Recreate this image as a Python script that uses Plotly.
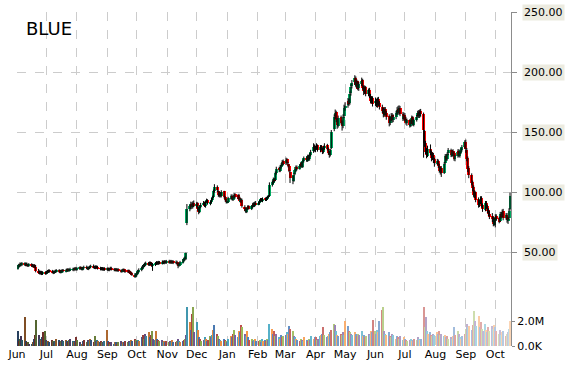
import pandas as pd
import plotly.graph_objects as go

# ---------------- data ----------------
first_day = "2014-06-02"
last_day = "2015-10-16"

opens = [
    # Jun 2014
    37.2, 38.8, 39.4, 40.6, 40.1, 41.0, 40.0, 40.9, 39.6, 39.4, 40.3, 39.5, 38.9, 39.5, 38.6, 35.2, 34.2, 33.0, 33.9, 32.7, 33.5,
    # Jul 2014
    33.1, 33.9, 34.4, 35.1, 34.7, 34.1, 33.6, 34.3, 34.7, 35.3, 34.7, 34.0, 34.9, 35.4, 34.8, 35.6, 36.1, 35.3, 35.9, 36.5, 35.8, 36.4, 37.1,
    # Aug 2014
    36.3, 36.9, 37.6, 37.1, 36.5, 37.4, 38.1, 37.5, 36.7, 37.6, 38.3, 38.9, 38.2, 37.5, 38.4, 38.1, 37.3, 36.5, 37.1, 36.2, 36.9,
    # Sep 2014
    36.1, 36.7, 35.8, 36.6, 37.3, 36.3, 35.7, 36.4, 35.5, 36.1, 35.1, 34.6, 35.4, 35.8, 34.9, 34.3, 35.0, 34.1, 33.6, 32.5, 31.9, 30.5,
    # Oct 2014
    31.6, 33.1, 34.5, 35.9, 37.3, 38.7, 39.4, 40.5, 41.3, 40.3, 41.6, 40.9, 39.5, 40.2, 41.1, 41.9, 41.1, 42.1, 41.4, 42.5, 41.6, 42.7, 41.9,
    # Nov 2014
    42.9, 42.1, 42.9, 41.9, 42.7, 41.7, 42.2, 40.7, 39.5, 40.6, 42.1, 43.4, 44.9, 44.6, 75.0, 86.5, 88.2, 90.5, 87.8, 91.0,
    # Dec 2014
    89.0, 91.0, 86.5, 83.5, 88.0, 90.5, 91.8, 88.5, 92.5, 93.8, 90.5, 92.0, 94.5, 96.5, 101.5, 105.0, 101.5, 97.5, 100.0, 97.0, 101.0, 96.5, 94.0,
    # Jan 2015
    92.0, 92.5, 95.0, 97.5, 94.0, 96.0, 98.5, 95.5, 97.8, 95.5, 92.5, 94.0, 88.0, 86.5, 84.0, 86.5, 88.5, 86.5, 88.0, 90.5, 88.5, 91.5,
    # Feb 2015
    90.5, 91.0, 93.0, 94.8, 93.0, 95.5, 93.8, 95.0, 96.5, 97.5, 106.5, 108.0, 111.5, 110.5, 116.5, 120.5, 118.0, 121.0, 123.0, 126.0,
    # Mar 2015
    124.5, 127.5, 124.0, 122.5, 117.5, 112.5, 110.0, 115.5, 118.0, 121.5, 119.5, 122.0, 124.5, 121.5, 126.5, 129.0, 126.5, 130.5, 127.5, 131.0, 134.5, 138.5,
    # Apr 2015
    135.5, 137.5, 139.5, 135.0, 138.5, 136.5, 133.5, 137.0, 139.5, 136.5, 133.5, 131.0, 137.0, 153.0, 163.5, 167.0, 160.5, 155.5, 162.5, 158.5, 155.0, 164.0,
    # May 2015
    170.5, 172.5, 176.5, 174.5, 182.5, 188.5, 191.5, 195.5, 188.5, 192.5, 186.5, 190.5, 193.5, 187.5, 183.5, 187.5, 181.5, 185.5, 180.5, 175.5, 178.5,
    # Jun 2015
    174.5, 176.5, 172.5, 177.5, 174.5, 171.5, 168.5, 164.5, 169.5, 166.5, 163.5, 157.5, 161.5, 164.5, 160.0, 162.5, 166.5, 169.5, 166.5, 170.5, 165.5, 161.5,
    # Jul 2015
    164.5, 161.5, 157.5, 160.5, 155.5, 158.5, 162.5, 156.5, 160.5, 163.5, 166.5, 163.5, 167.5, 165.0, 151.0, 141.5, 134.5, 130.5, 136.5, 133.5, 128.5, 131.5, 127.5,
    # Aug 2015
    124.5, 126.5, 122.5, 117.5, 120.5, 116.5, 124.5, 130.5, 127.5, 132.5, 135.5, 130.5, 134.5, 132.5, 127.5, 130.5, 134.5, 130.5, 133.5, 135.5, 137.5,
    # Sep 2015
    142.0, 135.5, 128.5, 120.5, 114.5, 108.5, 104.5, 97.5, 100.5, 94.5, 89.5, 92.5, 95.5, 89.5, 85.5, 91.5, 88.5, 85.5, 82.5, 80.5, 78.5, 73.5,
    # Oct 2015
    77.5, 80.5, 78.5, 76.5, 82.5, 80.5, 84.5, 78.5, 81.5, 76.5, 78.5, 86.0,
]

highs = [
    40.0, 40.9, 42.0, 41.8, 42.3, 42.1, 42.0, 41.9, 41.0, 41.4, 41.3, 40.7, 40.6, 40.6, 39.8, 36.6, 35.4, 35.1, 35.0, 34.7, 34.7,
    35.0, 35.7, 36.2, 36.2, 35.8, 35.3, 35.4, 36.0, 36.4, 36.4, 35.8, 36.0, 36.5, 36.5, 36.7, 37.2, 37.2, 37.0, 37.6, 37.6, 37.7, 38.2, 38.3,
    38.0, 38.7, 38.8, 38.2, 38.4, 39.3, 39.4, 38.6, 38.7, 39.4, 40.1, 40.3, 39.3, 39.6, 39.5, 39.2, 38.4, 38.2, 38.2, 38.0, 38.0,
    37.8, 37.8, 37.6, 38.4, 38.4, 37.4, 37.4, 37.4, 37.1, 37.2, 36.2, 36.4, 37.0, 36.9, 36.0, 36.0, 36.1, 35.2, 34.6, 33.7, 33.0, 32.7,
    34.3, 35.9, 37.1, 38.7, 39.9, 40.8, 41.9, 42.7, 42.4, 42.8, 42.7, 42.1, 41.6, 42.2, 43.1, 43.0, 43.3, 43.2, 43.7, 43.6, 43.9, 43.8, 44.1,
    44.2, 44.1, 44.1, 43.9, 43.8, 43.6, 43.4, 41.9, 41.8, 43.3, 44.8, 46.1, 46.9, 50.2, 90.5, 90.0, 92.5, 92.0, 92.8, 93.5,
    92.5, 92.0, 88.0, 89.5, 91.5, 93.0, 92.5, 93.0, 95.0, 94.5, 93.5, 95.5, 97.5, 102.5, 107.0, 106.0, 102.0, 101.0, 100.5, 102.0, 101.5, 97.0, 95.0,
    93.0, 96.5, 98.5, 98.5, 97.5, 99.5, 99.5, 98.5, 99.0, 96.5, 95.5, 95.0, 89.5, 87.5, 87.5, 89.5, 89.5, 89.5, 91.5, 92.0, 92.5, 93.0,
    92.5, 94.0, 95.5, 95.5, 96.0, 96.0, 96.5, 97.5, 98.0, 108.5, 110.0, 112.5, 112.0, 117.5, 121.5, 121.5, 123.0, 124.5, 127.0, 127.5,
    129.0, 128.5, 125.5, 123.5, 118.5, 114.0, 116.5, 119.5, 122.5, 122.5, 123.5, 125.5, 125.5, 127.5, 130.0, 130.0, 131.5, 131.5, 133.0, 135.5, 141.0, 140.0,
    139.0, 141.0, 140.0, 139.5, 139.5, 137.5, 139.0, 141.0, 140.5, 137.5, 134.5, 136.5, 152.0, 165.0, 169.0, 168.0, 162.0, 164.0, 164.0, 160.0, 165.0, 173.0,
    175.0, 178.5, 178.0, 184.0, 190.0, 193.5, 197.5, 196.5, 194.0, 193.0, 192.0, 195.5, 194.5, 189.0, 189.0, 188.5, 186.5, 187.0, 182.0, 180.0, 180.0,
    179.0, 178.0, 179.0, 179.5, 176.0, 173.0, 170.5, 171.0, 171.0, 168.0, 165.0, 163.0, 166.0, 166.0, 165.0, 168.0, 171.0, 172.0, 172.5, 172.0, 167.0, 166.5,
    166.0, 163.0, 161.5, 161.0, 160.5, 164.0, 163.5, 161.5, 164.5, 168.0, 168.5, 169.0, 169.5, 166.5, 152.0, 143.0, 137.0, 139.0, 140.0, 135.0, 133.5, 133.0, 129.0,
    128.0, 127.5, 124.0, 121.5, 122.0, 125.5, 132.0, 132.0, 133.5, 137.0, 136.5, 135.5, 136.0, 134.0, 131.5, 136.0, 136.0, 134.5, 137.0, 139.5, 143.5,
    144.0, 137.0, 130.0, 122.0, 116.0, 110.0, 106.0, 102.0, 101.0, 96.0, 94.0, 97.0, 97.0, 91.0, 93.0, 93.0, 90.0, 87.0, 85.0, 83.0, 80.0, 79.0,
    82.0, 82.0, 80.0, 84.0, 84.0, 86.0, 86.5, 83.0, 83.0, 80.0, 87.0, 100.0,
]

lows = [
    36.0, 37.5, 38.2, 38.8, 39.0, 39.1, 38.8, 38.7, 38.2, 38.3, 38.4, 37.9, 37.8, 37.2, 33.8, 32.8, 32.0, 31.9, 31.5, 31.6, 31.8,
    32.0, 32.8, 33.3, 33.5, 32.9, 32.3, 32.5, 33.2, 33.6, 33.5, 32.9, 33.0, 33.8, 33.8, 33.7, 34.5, 34.3, 34.2, 34.8, 34.8, 34.7, 35.2, 35.3,
    35.1, 35.8, 35.9, 35.4, 35.4, 36.3, 36.3, 35.7, 35.6, 36.5, 37.2, 37.0, 36.5, 36.4, 36.9, 36.1, 35.4, 35.4, 35.2, 35.1, 35.0,
    35.0, 34.8, 34.7, 35.5, 35.3, 34.7, 34.6, 34.5, 34.4, 34.1, 33.5, 33.6, 34.3, 33.9, 33.3, 33.2, 33.1, 32.4, 31.5, 30.8, 29.3, 29.4,
    30.4, 31.9, 33.4, 34.7, 36.1, 37.5, 38.2, 39.3, 39.2, 39.1, 39.7, 38.4, 35.0, 39.0, 39.9, 40.0, 40.0, 40.4, 40.3, 40.6, 40.5, 40.9, 40.8,
    41.0, 40.9, 40.8, 40.8, 40.6, 40.6, 39.6, 37.2, 38.4, 39.4, 41.0, 42.2, 43.5, 44.0, 73.0, 84.5, 86.0, 86.5, 86.8, 88.0,
    87.5, 85.0, 82.0, 83.0, 87.0, 89.5, 88.0, 87.5, 91.5, 90.0, 89.5, 91.0, 93.5, 95.5, 100.0, 100.5, 96.5, 96.0, 96.0, 96.0, 95.0, 92.5, 91.0,
    91.0, 91.5, 94.0, 93.5, 93.0, 95.0, 95.0, 94.5, 94.0, 92.0, 91.5, 87.5, 84.5, 83.0, 83.0, 85.5, 86.0, 85.5, 87.0, 88.0, 88.0, 89.5,
    89.5, 90.0, 92.0, 92.5, 92.0, 93.0, 93.0, 94.0, 95.5, 96.5, 105.0, 107.0, 108.5, 109.5, 115.0, 117.0, 117.0, 120.0, 122.0, 122.5,
    123.0, 123.5, 121.0, 117.0, 108.0, 107.0, 109.0, 114.5, 117.0, 118.5, 119.0, 121.0, 120.5, 120.5, 125.0, 125.5, 125.5, 126.5, 126.5, 130.0, 133.0, 134.0,
    133.5, 135.5, 134.0, 133.5, 135.0, 132.0, 132.5, 135.5, 135.0, 131.5, 129.0, 130.0, 136.0, 151.0, 161.0, 158.5, 153.0, 154.0, 156.5, 151.5, 153.5, 162.0,
    168.0, 170.5, 172.0, 173.0, 180.5, 186.5, 189.5, 187.5, 186.5, 185.0, 184.5, 188.5, 185.5, 181.0, 182.0, 180.0, 180.0, 178.5, 174.0, 174.0, 171.5,
    172.0, 171.0, 170.5, 172.0, 169.0, 166.0, 162.5, 163.0, 164.0, 160.5, 155.0, 156.0, 159.5, 158.0, 158.5, 161.0, 164.5, 165.0, 164.5, 163.5, 159.5, 160.0,
    159.0, 156.5, 155.5, 154.0, 154.5, 157.0, 155.5, 155.0, 159.0, 162.5, 162.0, 162.0, 163.0, 129.0, 138.0, 132.0, 128.5, 129.5, 131.0, 126.0, 127.0, 124.5, 121.5,
    123.0, 120.5, 116.5, 115.0, 113.0, 115.5, 123.5, 126.5, 126.5, 131.0, 129.5, 129.5, 130.5, 126.5, 126.0, 129.0, 129.5, 129.0, 132.0, 134.0, 136.5,
    133.0, 126.0, 117.0, 112.0, 106.0, 101.0, 96.0, 95.5, 92.0, 87.5, 88.0, 90.5, 87.5, 84.0, 84.5, 86.5, 83.0, 80.5, 78.0, 75.5, 72.0, 72.5,
    71.0, 76.5, 74.5, 75.5, 78.5, 79.5, 77.0, 77.5, 75.0, 74.0, 77.5, 85.0,
]

closes = [
    38.5, 39.5, 40.5, 40.0, 41.0, 40.2, 40.8, 39.8, 39.5, 40.2, 39.6, 39.0, 39.4, 38.2, 35.0, 34.0, 33.2, 33.8, 32.6, 33.4, 33.0,
    33.8, 34.5, 35.0, 34.6, 34.0, 33.5, 34.2, 34.8, 35.2, 34.6, 34.0, 34.8, 35.3, 34.9, 35.5, 36.0, 35.4, 35.8, 36.4, 35.9, 36.5, 37.0, 36.4,
    36.8, 37.5, 37.0, 36.6, 37.3, 38.0, 37.4, 36.8, 37.5, 38.2, 38.8, 38.1, 37.6, 38.3, 38.0, 37.2, 36.6, 37.0, 36.3, 36.8, 36.2,
    36.6, 35.9, 36.5, 37.2, 36.4, 35.8, 36.3, 35.6, 36.0, 35.2, 34.7, 35.3, 35.9, 35.0, 34.4, 34.9, 34.2, 33.5, 32.6, 32.0, 30.6, 31.5,
    33.0, 34.6, 35.8, 37.4, 38.6, 39.5, 40.6, 41.2, 40.4, 41.5, 40.8, 39.6, 40.3, 41.0, 41.8, 41.2, 42.0, 41.5, 42.4, 41.7, 42.6, 42.0, 42.8,
    42.2, 42.8, 42.0, 42.6, 41.8, 42.3, 40.8, 39.6, 40.5, 42.0, 43.5, 44.8, 45.5, 49.5, 86.0, 88.5, 90.2, 88.0, 90.8, 89.5,
    90.5, 86.0, 84.0, 88.5, 90.0, 91.5, 89.0, 92.0, 93.5, 91.0, 92.5, 94.0, 96.0, 101.0, 104.5, 102.0, 98.0, 99.5, 97.5, 100.5, 96.0, 93.5, 92.0,
    92.0, 95.5, 97.0, 94.5, 96.5, 98.0, 96.0, 97.5, 95.0, 93.0, 94.5, 88.5, 86.0, 84.5, 86.0, 88.0, 87.0, 88.5, 90.0, 89.0, 91.0, 90.5,
    91.5, 93.0, 94.5, 93.5, 95.0, 94.0, 95.5, 96.5, 97.0, 106.0, 108.5, 111.0, 110.0, 116.0, 120.0, 118.5, 121.5, 123.0, 125.5, 124.0,
    127.0, 124.5, 122.0, 118.0, 112.0, 110.5, 115.0, 118.5, 121.0, 120.0, 122.5, 124.0, 122.0, 126.0, 128.5, 127.0, 130.0, 128.0, 131.5, 134.0, 138.0, 136.0,
    137.0, 139.0, 135.5, 138.0, 136.5, 134.0, 137.5, 139.0, 136.0, 133.0, 131.0, 135.0, 150.0, 163.0, 166.0, 160.0, 156.0, 162.0, 158.0, 155.0, 163.0, 170.0,
    172.0, 176.0, 174.0, 182.0, 188.0, 191.0, 195.0, 189.0, 192.0, 186.0, 190.0, 193.0, 187.0, 184.0, 187.0, 182.0, 185.0, 180.0, 176.0, 178.0, 174.0,
    176.0, 173.0, 177.0, 174.0, 171.0, 168.0, 165.0, 169.0, 166.0, 163.0, 158.0, 161.0, 164.0, 160.0, 163.0, 166.0, 169.0, 167.0, 170.0, 165.0, 162.0, 164.0,
    161.0, 158.0, 160.0, 156.0, 159.0, 162.0, 157.0, 160.0, 163.0, 166.0, 164.0, 167.0, 165.0, 152.0, 141.0, 134.0, 131.0, 136.0, 133.0, 129.0, 131.0, 127.0, 125.0,
    126.0, 122.0, 118.0, 120.0, 116.0, 124.0, 130.0, 128.0, 132.0, 135.0, 131.0, 134.0, 132.0, 128.0, 130.0, 134.0, 131.0, 133.0, 135.0, 138.0, 142.0,
    136.0, 128.0, 120.0, 115.0, 108.0, 104.0, 98.0, 100.0, 94.0, 90.0, 92.0, 95.0, 89.0, 86.0, 91.0, 88.0, 85.0, 82.0, 80.0, 78.0, 74.0, 77.0,
    80.0, 78.0, 76.0, 82.0, 80.0, 84.0, 79.0, 81.0, 77.0, 78.0, 85.0, 97.0,
]

volumes_m = [
    1.2, 0.4, 0.6, 0.8, 0.5, 2.3, 0.4, 0.3, 0.3, 0.2, 0.2, 0.3, 0.6, 0.9, 2.1, 0.9, 0.6, 0.5, 0.7, 1.1, 1.2,
    0.5, 0.4, 0.4, 0.3, 0.5, 0.4, 0.3, 0.4, 0.6, 0.5, 0.3, 0.4, 0.5, 0.4, 0.5, 0.4, 0.3, 0.5, 0.6, 0.4, 0.3, 0.4, 0.7,
    0.5, 0.3, 0.2, 0.2, 0.4, 0.5, 0.3, 0.5, 0.4, 0.6, 0.5, 0.3, 0.8, 0.4, 0.5, 0.4, 0.3, 0.4, 0.3, 0.3, 0.4,
    1.25, 0.4, 0.3, 0.2, 0.3, 0.2, 0.3, 0.3, 0.2, 0.3, 0.4, 0.2, 0.3, 0.3, 0.4, 0.3, 0.4, 0.3, 0.5, 0.4, 0.6, 0.5,
    0.4, 0.5, 0.4, 0.7, 0.9, 0.6, 1.0, 0.8, 1.1, 0.7, 0.9, 1.2, 0.6, 0.5, 1.2, 0.6, 0.5, 0.4, 0.5, 0.3, 0.4, 0.3, 0.4,
    0.3, 0.4, 0.3, 0.5, 0.3, 0.3, 0.4, 0.6, 0.4, 0.3, 0.4, 0.5, 0.6, 0.9, 3.1, 1.9, 1.3, 2.6, 3.1, 1.1,
    1.9, 1.3, 0.7, 0.6, 0.4, 0.5, 0.7, 0.6, 0.4, 0.5, 0.8, 0.7, 0.9, 1.3, 1.7, 1.0, 0.8, 0.6, 0.5, 0.4, 0.6, 0.5, 0.4,
    0.3, 0.6, 0.8, 0.7, 1.0, 1.3, 0.9, 0.7, 1.2, 1.1, 1.7, 1.5, 1.0, 0.8, 1.2, 0.7, 0.5, 0.6, 0.4, 0.5, 0.6, 0.4,
    0.4, 0.5, 0.3, 0.6, 0.4, 0.5, 0.4, 0.6, 0.5, 1.8, 1.4, 1.0, 1.2, 0.8, 1.0, 0.7, 0.6, 0.9, 0.7, 0.8,
    0.9, 1.1, 1.0, 1.6, 1.4, 1.2, 0.8, 0.7, 0.6, 0.5, 0.4, 0.6, 0.5, 0.4, 0.7, 0.5, 0.4, 0.6, 0.5, 0.8, 0.6, 0.7,
    0.7, 0.5, 0.6, 0.8, 0.9, 1.0, 1.5, 0.9, 0.7, 0.8, 1.0, 1.1, 1.3, 1.8, 1.7, 1.2, 0.9, 0.8, 1.0, 0.9, 1.1, 0.9,
    2.0, 1.6, 1.2, 1.1, 1.0, 0.9, 1.1, 1.0, 0.8, 1.0, 0.9, 1.2, 0.8, 0.9, 0.7, 0.8, 1.0, 0.9, 1.2, 1.1, 2.1,
    1.2, 1.0, 1.3, 1.1, 2.0, 2.9, 3.1, 1.2, 1.0, 0.9, 1.1, 0.8, 0.7, 1.0, 0.9, 0.6, 0.8, 0.7, 0.6, 0.8, 0.5, 0.7,
    0.6, 0.5, 0.4, 0.5, 0.6, 0.4, 0.5, 0.6, 0.5, 0.7, 0.6, 0.5, 0.6, 3.1, 1.5, 2.3, 1.2, 1.0, 1.1, 0.9, 0.8, 1.0, 0.9,
    1.1, 1.0, 1.2, 0.9, 1.0, 0.8, 0.9, 0.7, 0.8, 0.6, 0.7, 0.6, 0.8, 1.5, 0.9, 1.2, 1.0, 0.7, 0.6, 0.8, 1.0,
    1.4, 1.8, 1.5, 1.6, 1.3, 1.7, 2.8, 2.0, 1.6, 2.4, 1.5, 1.9, 1.4, 1.2, 1.8, 1.3, 1.1, 1.5, 1.2, 1.6, 1.4, 1.7,
    1.5, 1.2, 1.0, 1.3, 0.9, 1.1, 1.2, 0.8, 1.0, 1.1, 1.4, 2.0,
]

price_ticks = [50, 100, 150, 200, 250]
volume_ticks = [0, 2_000_000]
volume_tick_text = ["0.0K", "2.0M"]
symbol = "BLUE"

# ---------------- build figure ----------------
dates = list(pd.bdate_range(first_day, last_day))
n = len(dates)
assert len(opens) == n and len(highs) == n and len(lows) == n and len(closes) == n and len(volumes_m) == n, \
    (n, len(opens), len(highs), len(lows), len(closes), len(volumes_m))

UP = "#00a860"
DOWN = "#ff0000"
DAY_MS = 86400000

# candle bodies
body_base = [min(o, c) for o, c in zip(opens, closes)]
body_h = [max(abs(c - o), 0.4) for o, c in zip(opens, closes)]
body_col = [UP if c >= o else DOWN for o, c in zip(opens, closes)]

# wicks
wx, wy = [], []
for d, h, l in zip(dates, highs, lows):
    wx += [d, d, None]
    wy += [l, h, None]

# volume colours: Office-like palette, darker early, paler later
palette = ["#4F81BD", "#C0504D", "#9BBB59", "#8064A2", "#4BACC6", "#F79646"]


def shade(hexc, f):
    r, g, b = int(hexc[1:3], 16), int(hexc[3:5], 16), int(hexc[5:7], 16)
    if f < 0:
        k = 1 + f
        r, g, b = r * k, g * k, b * k
    else:
        r, g, b = r + (255 - r) * f, g + (255 - g) * f, b + (255 - b) * f
    return "rgb(%d,%d,%d)" % (r, g, b)


vol_cols = [shade(palette[i % 6], -0.5 + 1.1 * i / (n - 1)) for i in range(n)]

fig = go.Figure()

fig.add_trace(go.Bar(
    x=dates, y=[v * 1e6 for v in volumes_m], yaxis="y2",
    marker=dict(color=vol_cols, line=dict(width=0)), width=DAY_MS * 1.0,
    showlegend=False, hoverinfo="skip",
))

fig.add_trace(go.Bar(
    x=dates, y=body_h, base=body_base,
    marker=dict(color=body_col, line=dict(width=0)), width=DAY_MS * 3.0,
    showlegend=False, hoverinfo="skip",
))

fig.add_trace(go.Scatter(
    x=wx, y=wy, mode="lines", line=dict(color="#000000", width=1),
    showlegend=False, hoverinfo="skip", connectgaps=False,
))

GRID = "#cccccc"
AXIS = "#8c8c8c"
FONT = "DejaVu Sans"

fig.update_layout(
    width=570, height=370,
    margin=dict(l=17, r=59, t=12, b=24, autoexpand=False),
    paper_bgcolor="white", plot_bgcolor="white",
    barmode="overlay", bargap=0,
    font=dict(family=FONT, size=11, color="#000000"),
    xaxis=dict(
        type="date", automargin=False,
        range=["2014-06-01", "2015-10-17"],
        tick0="2014-06-01", dtick="M1", tickformat="%b",
        showgrid=True, gridcolor=GRID, griddash="dash", gridwidth=1,
        showline=False, zeroline=False, ticks="",
        tickfont=dict(family=FONT, size=11, color="#000000"),
    ),
    yaxis=dict(
        side="right", range=[-27.4, 250], automargin=False,
        tickvals=price_ticks, showticklabels=False,
        showgrid=True, gridcolor=GRID, griddash="dash", gridwidth=1,
        showline=True, linecolor=AXIS, linewidth=1,
        ticks="outside", ticklen=5, tickcolor=AXIS,
        zeroline=False,
    ),
    yaxis2=dict(
        overlaying="y", side="right", range=[0, 26.72e6], automargin=False,
        tickvals=volume_ticks, ticktext=volume_tick_text,
        showgrid=False, zeroline=False, showline=False,
        ticks="outside", ticklen=3, tickcolor=AXIS,
        tickfont=dict(family=FONT, size=11, color="#000000"),
    ),
)

annotations = []
for v in price_ticks:
    annotations.append(dict(
        xref="paper", yref="y", x=1, y=v, xanchor="left", yanchor="middle",
        xshift=11, text="%.2f" % v, showarrow=False,
        font=dict(family=FONT, size=11, color="#000000"),
        bgcolor="#ECEBE0", borderpad=1,
    ))
annotations.append(dict(
    xref="paper", yref="paper", x=7 / 494, y=1, xanchor="left", yanchor="top",
    yshift=-4, text=symbol, showarrow=False,
    font=dict(family=FONT, size=18, color="#000000"),
))
fig.update_layout(annotations=annotations)

fig.write_html(
    "out.html",
    config={"displayModeBar": False},
    post_script="document.body.style.margin='0';document.body.style.overflow='hidden';",
)
